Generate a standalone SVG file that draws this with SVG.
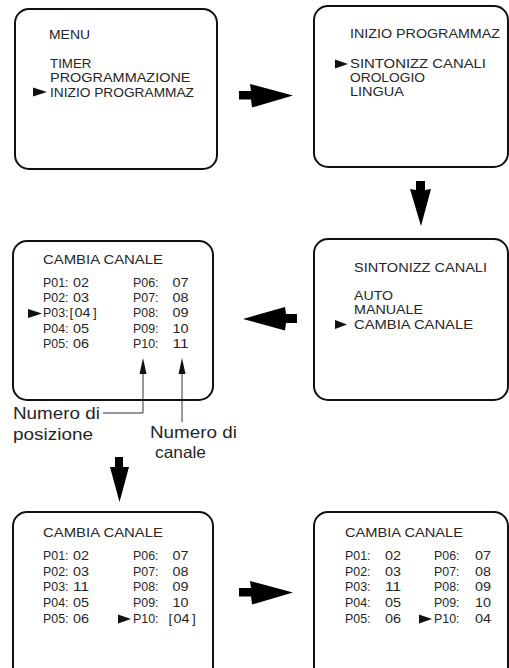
<svg xmlns="http://www.w3.org/2000/svg" width="509" height="668" viewBox="0 0 509 668">
  <style>
    .scr { fill: #fff; stroke: #111; stroke-width: 2; }
    .t { font-family: "Liberation Sans", Arial, sans-serif; font-size: 13.5px; fill: #262626; }
    .r { font-family: "Liberation Sans", Arial, sans-serif; font-size: 13.5px; fill: #262626; }
    .lbl { font-family: "Liberation Sans", Arial, sans-serif; font-size: 16.5px; fill: #262626; }
    .ptr { fill: #111; }
    .blk { fill: #000; }
    .lead { fill: none; stroke: #333; stroke-width: 1; }
  </style>
  <defs>
    <!-- solid block arrow pointing right -->
    <polygon id="arrR" points="239,91 251,91 250,84 293,95.5 252,107.5 251,99.5 239,99.5"/>
  </defs>
  <rect width="509" height="668" fill="#fff"/>

  <!-- screen 1: main menu -->
  <g id="menu">
    <rect class="scr" x="15" y="9" width="202" height="160" rx="14"/>
    <text class="t" x="49" y="39" textLength="41" lengthAdjust="spacingAndGlyphs">MENU</text>
    <text class="t" x="50" y="67.5" textLength="41.5" lengthAdjust="spacingAndGlyphs">TIMER</text>
    <text class="t" x="50" y="82" textLength="140.5" lengthAdjust="spacingAndGlyphs">PROGRAMMAZIONE</text>
    <polygon class="ptr" points="33,87.5 47,92 33,96.5"/>
    <text class="t" x="50" y="96.5" textLength="144" lengthAdjust="spacingAndGlyphs">INIZIO PROGRAMMAZ</text>
  </g>

  <!-- screen 2: setup menu -->
  <g id="inizio">
    <rect class="scr" x="314" y="6" width="194" height="161" rx="14"/>
    <text class="t" x="350" y="37.7" textLength="150" lengthAdjust="spacingAndGlyphs">INIZIO PROGRAMMAZ</text>
    <polygon class="ptr" points="335,59.5 348,64 335,68.5"/>
    <text class="t" x="350" y="68" textLength="136" lengthAdjust="spacingAndGlyphs">SINTONIZZ CANALI</text>
    <text class="t" x="350" y="82" textLength="75" lengthAdjust="spacingAndGlyphs">OROLOGIO</text>
    <text class="t" x="350" y="96" textLength="54" lengthAdjust="spacingAndGlyphs">LINGUA</text>
  </g>

  <!-- screen 3: channel tuning menu -->
  <g id="sintonizz">
    <rect class="scr" x="314" y="239" width="194" height="161" rx="14"/>
    <text class="t" x="354" y="271.5" textLength="133" lengthAdjust="spacingAndGlyphs">SINTONIZZ CANALI</text>
    <text class="t" x="354" y="300" textLength="39" lengthAdjust="spacingAndGlyphs">AUTO</text>
    <text class="t" x="354" y="314.3" textLength="69" lengthAdjust="spacingAndGlyphs">MANUALE</text>
    <polygon class="ptr" points="335,320 347,324.5 335,329"/>
    <text class="t" x="354" y="328.7" textLength="119" lengthAdjust="spacingAndGlyphs">CAMBIA CANALE</text>
  </g>

  <!-- screen 4: channel swap, P03 selected -->
  <g id="cambia1">
    <rect class="scr" x="13" y="241" width="200" height="159" rx="14"/>
    <text class="t" x="43" y="264" textLength="120" lengthAdjust="spacingAndGlyphs">CAMBIA CANALE</text>
    <g class="r">
      <text x="43" y="287" textLength="25.5" lengthAdjust="spacingAndGlyphs">P01:</text><text x="73" y="287" textLength="16" lengthAdjust="spacingAndGlyphs">02</text>
      <text x="43" y="302" textLength="25.5" lengthAdjust="spacingAndGlyphs">P02:</text><text x="73" y="302" textLength="16" lengthAdjust="spacingAndGlyphs">03</text>
      <text x="43" y="317" textLength="25.5" lengthAdjust="spacingAndGlyphs">P03:</text><text x="69.5" y="317">[</text><text x="74.5" y="317" textLength="16" lengthAdjust="spacingAndGlyphs">04</text><text x="93" y="317">]</text>
      <text x="43" y="332.5" textLength="25.5" lengthAdjust="spacingAndGlyphs">P04:</text><text x="73" y="332.5" textLength="16" lengthAdjust="spacingAndGlyphs">05</text>
      <text x="43" y="348" textLength="25.5" lengthAdjust="spacingAndGlyphs">P05:</text><text x="73" y="348" textLength="16" lengthAdjust="spacingAndGlyphs">06</text>
      <text x="133" y="287" textLength="25.5" lengthAdjust="spacingAndGlyphs">P06:</text><text x="172.5" y="287" textLength="16" lengthAdjust="spacingAndGlyphs">07</text>
      <text x="133" y="302" textLength="25.5" lengthAdjust="spacingAndGlyphs">P07:</text><text x="172.5" y="302" textLength="16" lengthAdjust="spacingAndGlyphs">08</text>
      <text x="133" y="317" textLength="25.5" lengthAdjust="spacingAndGlyphs">P08:</text><text x="172.5" y="317" textLength="16" lengthAdjust="spacingAndGlyphs">09</text>
      <text x="133" y="332.5" textLength="25.5" lengthAdjust="spacingAndGlyphs">P09:</text><text x="172.5" y="332.5" textLength="16" lengthAdjust="spacingAndGlyphs">10</text>
      <text x="133" y="348" textLength="25.5" lengthAdjust="spacingAndGlyphs">P10:</text><text x="172.5" y="348" textLength="16" lengthAdjust="spacingAndGlyphs">11</text>
    </g>
    <polygon class="ptr" points="28,309 42,313.5 28,318"/>
  </g>

  <!-- screen 5: channel swap, P10 selected -->
  <g id="cambia2">
    <rect class="scr" x="13" y="512" width="200" height="170" rx="14"/>
    <text class="t" x="43" y="537" textLength="120" lengthAdjust="spacingAndGlyphs">CAMBIA CANALE</text>
    <g class="r">
      <text x="43" y="560" textLength="25.5" lengthAdjust="spacingAndGlyphs">P01:</text><text x="73" y="560" textLength="16" lengthAdjust="spacingAndGlyphs">02</text>
      <text x="43" y="575.7" textLength="25.5" lengthAdjust="spacingAndGlyphs">P02:</text><text x="73" y="575.7" textLength="16" lengthAdjust="spacingAndGlyphs">03</text>
      <text x="43" y="591.3" textLength="25.5" lengthAdjust="spacingAndGlyphs">P03:</text><text x="73" y="591.3" textLength="16" lengthAdjust="spacingAndGlyphs">11</text>
      <text x="43" y="607" textLength="25.5" lengthAdjust="spacingAndGlyphs">P04:</text><text x="73" y="607" textLength="16" lengthAdjust="spacingAndGlyphs">05</text>
      <text x="43" y="623" textLength="25.5" lengthAdjust="spacingAndGlyphs">P05:</text><text x="73" y="623" textLength="16" lengthAdjust="spacingAndGlyphs">06</text>
      <text x="133" y="560" textLength="25.5" lengthAdjust="spacingAndGlyphs">P06:</text><text x="172.5" y="560" textLength="16" lengthAdjust="spacingAndGlyphs">07</text>
      <text x="133" y="575.7" textLength="25.5" lengthAdjust="spacingAndGlyphs">P07:</text><text x="172.5" y="575.7" textLength="16" lengthAdjust="spacingAndGlyphs">08</text>
      <text x="133" y="591.3" textLength="25.5" lengthAdjust="spacingAndGlyphs">P08:</text><text x="172.5" y="591.3" textLength="16" lengthAdjust="spacingAndGlyphs">09</text>
      <text x="133" y="607" textLength="25.5" lengthAdjust="spacingAndGlyphs">P09:</text><text x="172.5" y="607" textLength="16" lengthAdjust="spacingAndGlyphs">10</text>
      <text x="133" y="623" textLength="25.5" lengthAdjust="spacingAndGlyphs">P10:</text><text x="168.5" y="623">[</text><text x="173.5" y="623" textLength="16" lengthAdjust="spacingAndGlyphs">04</text><text x="192" y="623">]</text>
    </g>
    <polygon class="ptr" points="118,614.5 131,619 118,623.5"/>
  </g>

  <!-- screen 6: channel swap confirmed -->
  <g id="cambia3">
    <rect class="scr" x="314" y="512" width="194" height="170" rx="14"/>
    <text class="t" x="345" y="537" textLength="118" lengthAdjust="spacingAndGlyphs">CAMBIA CANALE</text>
    <g class="r">
      <text x="345" y="560" textLength="25.5" lengthAdjust="spacingAndGlyphs">P01:</text><text x="385" y="560" textLength="16" lengthAdjust="spacingAndGlyphs">02</text>
      <text x="345" y="575.7" textLength="25.5" lengthAdjust="spacingAndGlyphs">P02:</text><text x="385" y="575.7" textLength="16" lengthAdjust="spacingAndGlyphs">03</text>
      <text x="345" y="591.3" textLength="25.5" lengthAdjust="spacingAndGlyphs">P03:</text><text x="385" y="591.3" textLength="16" lengthAdjust="spacingAndGlyphs">11</text>
      <text x="345" y="607" textLength="25.5" lengthAdjust="spacingAndGlyphs">P04:</text><text x="385" y="607" textLength="16" lengthAdjust="spacingAndGlyphs">05</text>
      <text x="345" y="623" textLength="25.5" lengthAdjust="spacingAndGlyphs">P05:</text><text x="385" y="623" textLength="16" lengthAdjust="spacingAndGlyphs">06</text>
      <text x="434" y="560" textLength="25.5" lengthAdjust="spacingAndGlyphs">P06:</text><text x="475" y="560" textLength="16" lengthAdjust="spacingAndGlyphs">07</text>
      <text x="434" y="575.7" textLength="25.5" lengthAdjust="spacingAndGlyphs">P07:</text><text x="475" y="575.7" textLength="16" lengthAdjust="spacingAndGlyphs">08</text>
      <text x="434" y="591.3" textLength="25.5" lengthAdjust="spacingAndGlyphs">P08:</text><text x="475" y="591.3" textLength="16" lengthAdjust="spacingAndGlyphs">09</text>
      <text x="434" y="607" textLength="25.5" lengthAdjust="spacingAndGlyphs">P09:</text><text x="475" y="607" textLength="16" lengthAdjust="spacingAndGlyphs">10</text>
      <text x="434" y="623" textLength="25.5" lengthAdjust="spacingAndGlyphs">P10:</text><text x="475" y="623" textLength="16" lengthAdjust="spacingAndGlyphs">04</text>
    </g>
    <polygon class="ptr" points="419,614.5 432,619 419,623.5"/>
  </g>

  <!-- callout labels -->
  <g id="labels">
    <text class="lbl" x="13" y="419" textLength="87" lengthAdjust="spacingAndGlyphs">Numero di</text>
    <text class="lbl" x="13" y="440" textLength="80" lengthAdjust="spacingAndGlyphs">posizione</text>
    <text class="lbl" x="150" y="438" textLength="87" lengthAdjust="spacingAndGlyphs">Numero di</text>
    <text class="lbl" x="155" y="458" textLength="51" lengthAdjust="spacingAndGlyphs">canale</text>
  </g>

  <!-- connectors -->
  <g id="connectors">
    <use href="#arrR" class="blk"/>
    <polygon class="blk" points="416,181 425,181 425,190 431,189 421,226 410,189 416,190"/>
    <polygon class="blk" points="297,314 286,314 285,307 243,319 285,330.5 286,323 297,323"/>
    <polygon class="blk" points="115,457 123,457 123,467 129,467 119.5,502 110,467 115,467"/>
    <use href="#arrR" class="blk" transform="translate(0,497)"/>
    <!-- leader lines to the table columns -->
    <polyline class="lead" points="103,413 143,413 143,372"/>
    <polygon class="ptr" points="143,358 139.5,374 146.5,374"/>
    <line class="lead" x1="182" y1="372" x2="182" y2="422"/>
    <polygon class="ptr" points="182,358 178.5,374 185.5,374"/>
  </g>
</svg>
